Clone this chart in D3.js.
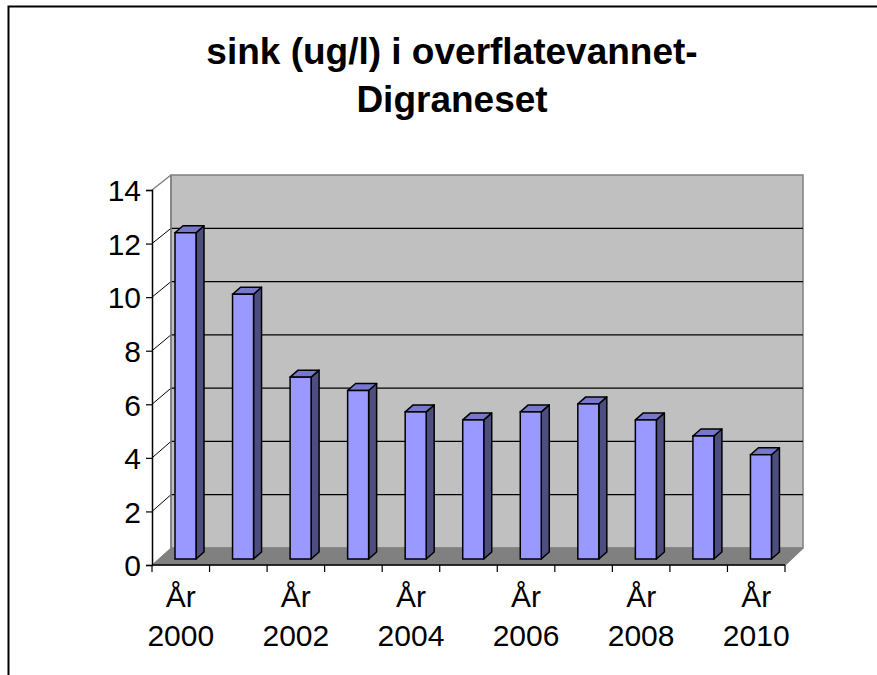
<!DOCTYPE html>
<html>
<head>
<meta charset="utf-8">
<script src="https://d3js.org/d3.v7.min.js"></script>
<style>
  html, body { margin: 0; padding: 0; background: #fff; }
  svg { display: block; }
  text { font-family: Arial, "Liberation Sans", sans-serif; fill: #000; }
</style>
</head>
<body>
<svg id="chart" width="877" height="675"></svg>
<script>
// ---- data ----
const titleLines = ["sink (ug/l) i overflatevannet-", "Digraneset"];
const years = ["2000","2001","2002","2003","2004","2005","2006","2007","2008","2009","2010"];
const values = [12.2, 9.9, 6.8, 6.3, 5.5, 5.2, 5.5, 5.8, 5.2, 4.6, 3.9];
const yTicks = [0, 2, 4, 6, 8, 10, 12, 14];
const labelPrefix = "År";
const labelEvery = 2;

// ---- geometry ----
const svg = d3.select("#chart");
const depthX = 19, depthY = -17;           // floor depth vector
const barFrontT = 0.35;                    // depth where bar front sits
const barDx = 8, barDy = -7;               // bar side/top depth
const barFrontOffset = 23, barWidth = 21;

const x = d3.scaleBand().domain(years).range([152, 785]).paddingInner(0).paddingOuter(0);
const yF = d3.scaleLinear().domain([0, 14]).range([565, 190]);   // front axis
const yB = d3.scaleLinear().domain([0, 14]).range([548, 175]);   // back wall
const yBar = d3.scaleLinear().domain([0, 14]).range([559, 184.6]);

const x0 = x.range()[0], x1 = x.range()[1];
const bx0 = x0 + depthX, bx1 = x1 + depthX - 1;

// border (top + left only)
svg.append("path").attr("d", `M8.5,675 V6.5 H877`).attr("fill", "none")
  .attr("stroke", "#000").attr("stroke-width", 2);

// title
const title = svg.append("text").attr("text-anchor", "middle")
  .attr("font-size", 37).attr("font-weight", "bold");
titleLines.forEach((t, i) => {
  title.append("tspan").attr("x", 452).attr("y", 64 + i * 48).text(t);
});

// back wall
svg.append("rect")
  .attr("x", bx0).attr("y", yB(14))
  .attr("width", bx1 - bx0).attr("height", yB(0) - yB(14))
  .attr("fill", "#C0C0C0").attr("stroke", "#808080").attr("stroke-width", 1.5);

// floor
svg.append("path")
  .attr("d", `M${x0},${yF(0)} L${x1},${yF(0)} L${bx1},${yB(0)} L${bx0},${yB(0)} Z`)
  .attr("fill", "#808080").attr("stroke", "#808080").attr("stroke-width", 1);

// gridlines on back wall + diagonals on left wall
const grid = yTicks.filter(v => v > 0 && v < 14);
svg.append("g").selectAll("line.h").data(grid).join("line")
  .attr("x1", bx0).attr("x2", bx1)
  .attr("y1", d => yB(d)).attr("y2", d => yB(d))
  .attr("stroke", "#000").attr("stroke-width", 1.2);
svg.append("g").selectAll("line.d").data(grid).join("line")
  .attr("x1", x0).attr("x2", bx0)
  .attr("y1", d => yF(d)).attr("y2", d => yB(d))
  .attr("stroke", "#000").attr("stroke-width", 1);
// top diagonal of left wall
svg.append("line").attr("x1", x0).attr("y1", yF(14)).attr("x2", bx0).attr("y2", yB(14))
  .attr("stroke", "#808080").attr("stroke-width", 1.5);
// right floor diagonal
svg.append("line").attr("x1", x1).attr("y1", yF(0)).attr("x2", bx1).attr("y2", yB(0))
  .attr("stroke", "#808080").attr("stroke-width", 1.5);
// back wall left edge (darker)
svg.append("line").attr("x1", bx0).attr("y1", yB(14)).attr("x2", bx0).attr("y2", yB(0))
  .attr("stroke", "#808080").attr("stroke-width", 1.5);

// bars
const bars = svg.append("g").selectAll("g").data(years.map((y, i) => ({ y, v: values[i] }))).join("g");
bars.each(function(d) {
  const g = d3.select(this);
  const fx = x(d.y) + barFrontOffset, fw = barWidth;
  const top = yBar(d.v), bot = yBar(0);
  // side
  g.append("path")
    .attr("d", `M${fx+fw},${top} L${fx+fw+barDx},${top+barDy} L${fx+fw+barDx},${bot+barDy} L${fx+fw},${bot} Z`)
    .attr("fill", "#4D4D80").attr("stroke", "#000").attr("stroke-width", 1.5).attr("stroke-linejoin", "round");
  // top
  g.append("path")
    .attr("d", `M${fx},${top} L${fx+barDx},${top+barDy} L${fx+fw+barDx},${top+barDy} L${fx+fw},${top} Z`)
    .attr("fill", "#7777CC").attr("stroke", "#000").attr("stroke-width", 1.5).attr("stroke-linejoin", "round");
  // front
  g.append("rect").attr("x", fx).attr("y", top).attr("width", fw).attr("height", bot - top)
    .attr("fill", "#9999FF").attr("stroke", "#000").attr("stroke-width", 1.5);
});

// y axis (front)
const yAxis = d3.axisLeft(yF).tickValues(yTicks).tickSize(6).tickPadding(6).tickFormat(d3.format("d"));
const ya = svg.append("g").attr("transform", `translate(${x0},0)`).call(yAxis);
ya.select(".domain").attr("stroke", "#000").attr("stroke-width", 1.5);
ya.selectAll(".tick line").attr("stroke", "#000").attr("stroke-width", 1.2);
ya.selectAll(".tick text").attr("font-size", 30).attr("font-family", "Arial, 'Liberation Sans', sans-serif")
  .attr("dy", "0.36em").attr("x", -11);

// x axis (front)
svg.append("line").attr("x1", x0).attr("x2", x1).attr("y1", yF(0)).attr("y2", yF(0))
  .attr("stroke", "#000").attr("stroke-width", 1.5);
const boundaries = years.map(y => x(y)).concat([x1]);
svg.append("g").selectAll("line").data(boundaries).join("line")
  .attr("x1", d => d).attr("x2", d => d).attr("y1", yF(0)).attr("y2", yF(0) + 7)
  .attr("stroke", "#000").attr("stroke-width", 1.2);

const xl = svg.append("g").selectAll("text")
  .data(years.filter((y, i) => i % labelEvery === 0)).join("text")
  .attr("text-anchor", "middle").attr("font-size", 30);
xl.append("tspan").attr("x", d => x(d) + x.bandwidth() / 2).attr("y", 607).text(labelPrefix);
xl.append("tspan").attr("x", d => x(d) + x.bandwidth() / 2).attr("y", 646).text(d => d);
</script>
</body>
</html>
